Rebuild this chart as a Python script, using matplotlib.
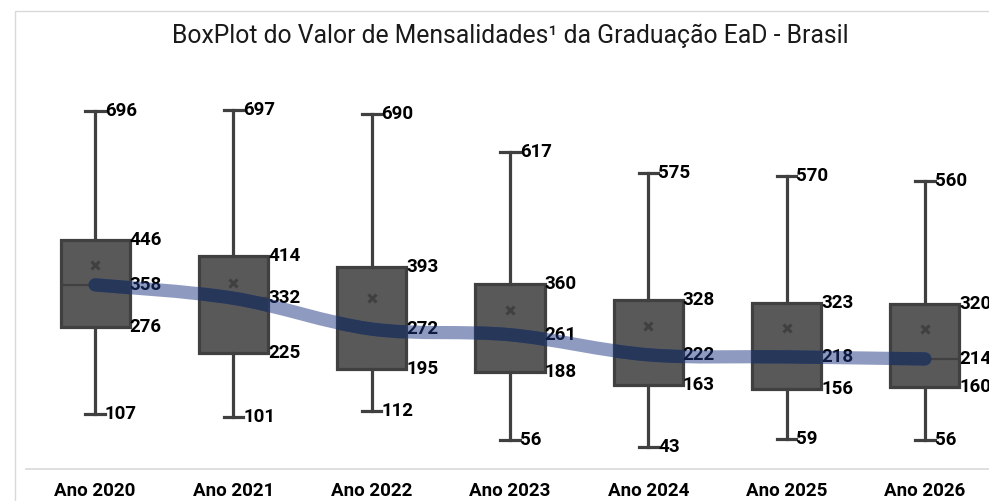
import numpy as np
import matplotlib
matplotlib.use("Agg")
from matplotlib import pyplot as plt
from matplotlib.path import Path
from matplotlib.patches import PathPatch, Rectangle

# dados
anos = ["Ano 2020", "Ano 2021", "Ano 2022", "Ano 2023", "Ano 2024", "Ano 2025", "Ano 2026"]
maximo = [696, 697, 690, 617, 575, 570, 560]
q3 = [446, 414, 393, 360, 328, 323, 320]
mediana = [358, 332, 272, 261, 222, 218, 214]
q1 = [276, 225, 195, 188, 163, 156, 160]
minimo = [107, 101, 112, 56, 43, 59, 56]
media = [397, 361, 332, 309, 278, 274, 272]

plt.rcParams['font.family'] = ['Roboto', 'DejaVu Sans']

W, H = 989, 501
fig = plt.figure(figsize=(W / 100, H / 100), dpi=100)
ax = fig.add_axes([26 / W, (H - 469) / H, 968 / W, 411.5 / H])

# moldura do grafico
fig.patches.append(Rectangle((15 / W, -0.1), 1.1, (H - 11) / H + 0.1,
                             transform=fig.transFigure, fill=False,
                             edgecolor="#d9d9d9", lw=1.0))

stats = []
for i in range(len(anos)):
    stats.append(dict(whislo=minimo[i], q1=q1[i], med=mediana[i], q3=q3[i],
                      whishi=maximo[i], mean=media[i], fliers=[], label=anos[i]))

pos = np.arange(len(anos))
escuro = "#404040"
bp = ax.bxp(stats, positions=pos, widths=0.5, patch_artist=True, showmeans=True,
            boxprops=dict(facecolor="#595959", edgecolor=escuro, linewidth=2.3),
            whiskerprops=dict(color=escuro, linewidth=2.3),
            capprops=dict(color=escuro, linewidth=2.3),
            medianprops=dict(color=escuro, linewidth=1.6),
            meanprops=dict(marker="x", markeredgecolor=escuro, markersize=6,
                           markeredgewidth=2.2),
            capwidths=0.14, zorder=2)

# linha suavizada das medianas (bezier tipo Catmull-Rom)
pts = np.column_stack([pos, mediana]).astype(float)
verts = [tuple(pts[0])]
codes = [Path.MOVETO]
for i in range(len(pts) - 1):
    p0 = pts[i - 1] if i > 0 else pts[i]
    p1, p2 = pts[i], pts[i + 1]
    p3 = pts[i + 2] if i + 2 < len(pts) else pts[i + 1]
    c1 = p1 + (p2 - p0) / 6
    c2 = p2 - (p3 - p1) / 6
    verts += [tuple(c1), tuple(c2), tuple(p2)]
    codes += [Path.CURVE4] * 3
curva = Path(verts, codes)

ax.add_patch(PathPatch(curva, fill=False, edgecolor="#1e3782", alpha=0.5,
                       lw=9.5, capstyle="round", joinstyle="round", zorder=6))
for caixa in bp["boxes"]:
    pp = PathPatch(curva, fill=False, edgecolor="#26375a", lw=9.5,
                   capstyle="round", zorder=7)
    ax.add_patch(pp)
    pp.set_clip_path(caixa)

# rotulos (os da direita ficam cortados na borda, como no original)
fs = 13.5
for i in range(len(anos)):
    for v in (q3[i], mediana[i], q1[i]):
        ax.text(pos[i] + 0.25, v, str(v), ha="left", va="center",
                fontsize=fs, fontweight="bold", color="#000000", zorder=5)
    for v in (maximo[i], minimo[i]):
        ax.text(pos[i] + 0.07, v, str(v), ha="left", va="center",
                fontsize=fs, fontweight="bold", color="#000000", zorder=5)

ax.set_xlim(-0.5, 6.5)
ax.set_ylim(0, 800)
ax.set_xticks(pos)
ax.set_xticklabels(anos, fontsize=13.5, fontweight="bold")
ax.tick_params(axis="x", length=0, pad=9)
ax.set_yticks([])
for s in ["top", "right", "left"]:
    ax.spines[s].set_visible(False)
ax.spines["bottom"].set_color("#d9d9d9")
ax.spines["bottom"].set_linewidth(1.2)
ax.patch.set_alpha(0)

fig.text(510 / W, (H - 36) / H, "BoxPlot do Valor de Mensalidades\u00b9 da Graduação EaD - Brasil",
         ha="center", va="center", fontsize=17.8, fontweight="normal", color="#1a1a1a")

fig.savefig("out.png", dpi=100)
